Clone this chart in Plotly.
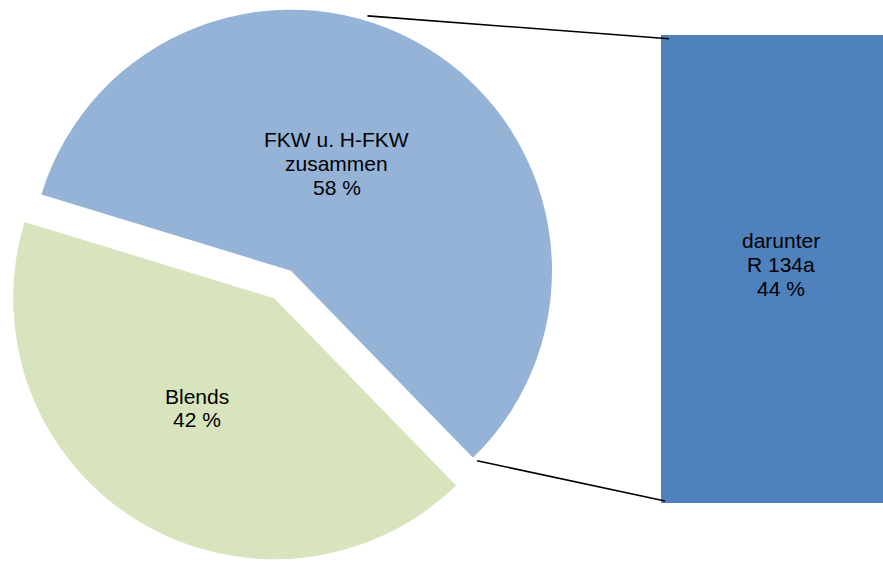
import math
import plotly.graph_objects as go

# ---- data ----
pie_labels = ["FKW u. H-FKW zusammen", "Blends"]
pie_values = [58, 42]
pie_texts = [["FKW u. H-FKW", "zusammen", "58 %"], ["Blends", "42 %"]]
bar_labels = ["darunter R 134a"]
bar_values = [44]
bar_texts = [["darunter", "R 134a", "44 %"]]

# ---- style / layout constants ----
W, H = 883, 562
BLUE, GREEN, BAR = "#95B3D7", "#D7E4BD", "#4F81BD"
FONT = dict(family="Arial, Liberation Sans, sans-serif", size=21, color="black")
LS = 23.7                       # line spacing of labels (px)
R = 261.0                       # pie radius (px)
C1 = (291.0, 270.7)             # centre of FKW slice (px, top-down)
PULL = 32.3                     # px the Blends slice is pulled out
ROT = 287.0                     # start angle (deg clockwise from 12 o'clock)
TRANSP = "rgba(0,0,0,0)"
# label placement (radius px, math angle deg) relative to each slice's centre
LABEL_POS = [(116.5, 66.8), (134.0, 235.0)]

total = sum(pie_values)
start_math = 90 - ROT
mid_blend = start_math - 360 * (pie_values[0] + pie_values[1] / 2) / total
C2 = (C1[0] + PULL * math.cos(math.radians(mid_blend)),
      C1[1] - PULL * math.sin(math.radians(mid_blend)))
centres = [C1, C2]


def dom(c):
    return dict(x=[(c[0] - R) / W, (c[0] + R) / W],
                y=[(H - (c[1] + R)) / H, (H - (c[1] - R)) / H])


def px2paper(x, y):
    return x / W, (H - y) / H


fig = go.Figure()


def add_label(lines, cx, cy):
    n = len(lines)
    for k, t in enumerate(lines):
        x, y = px2paper(cx, cy + (k - (n - 1) / 2) * LS)
        fig.add_annotation(x=x, y=y, xref="paper", yref="paper", text=t,
                           showarrow=False, font=FONT, xanchor="center",
                           yanchor="middle", align="center")


for i, (c, col) in enumerate(zip(centres, [BLUE, GREEN])):
    cols = [TRANSP, TRANSP]
    cols[i] = col
    fig.add_trace(go.Pie(
        labels=pie_labels, values=pie_values, sort=False, direction="clockwise",
        rotation=ROT, domain=dom(c), textinfo="none",
        marker=dict(colors=cols, line=dict(width=0)),
        showlegend=False, hoverinfo="skip"))
    r, a = LABEL_POS[i]
    add_label(pie_texts[i], c[0] + r * math.cos(math.radians(a)),
              c[1] - r * math.sin(math.radians(a)))

# bar (partly cut off at the right edge)
BAR_X0, BAR_FULL_W = 661.0, 240.0
BAR_TOP, BAR_BOT = 35.0, 503.0
fig.add_trace(go.Bar(
    x=[0], y=bar_values, width=1, marker=dict(color=BAR, line=dict(width=0)),
    textposition="none", xaxis="x", yaxis="y", showlegend=False,
    hoverinfo="skip", cliponaxis=True))
add_label(bar_texts[0], BAR_X0 + BAR_FULL_W / 2, (BAR_TOP + BAR_BOT) / 2 - 4.5)

fig.update_layout(
    width=W, height=H, margin=dict(l=0, r=0, t=0, b=0),
    paper_bgcolor="white", plot_bgcolor="rgba(0,0,0,0)",
    xaxis=dict(domain=[BAR_X0 / W, 1], range=[-0.5, -0.5 + (W - BAR_X0) / BAR_FULL_W],
               visible=False, fixedrange=True),
    yaxis=dict(domain=[(H - BAR_BOT) / H, (H - BAR_TOP) / H], range=[0, bar_values[0]],
               visible=False, fixedrange=True),
)

# connector lines from the pie to the bar
RL = R + 5
a_top, a_bot = 73.3, -45.6
p1 = (C1[0] + RL * math.cos(math.radians(a_top)), C1[1] - RL * math.sin(math.radians(a_top)))
p2 = (C1[0] + RL * math.cos(math.radians(a_bot)), C1[1] - RL * math.sin(math.radians(a_bot)))
q1 = (669.0, 38.7)
q2 = (665.0, 501.0)
for a, b in [(p1, q1), (p2, q2)]:
    x0, y0 = px2paper(*a)
    x1, y1 = px2paper(*b)
    fig.add_shape(type="line", xref="paper", yref="paper", x0=x0, y0=y0, x1=x1, y1=y1,
                  line=dict(color="black", width=1.6), layer="above")

fig.write_html("out.html", config={"displayModeBar": False},
               post_script="document.body.style.margin='0';document.body.style.overflow='hidden';")
